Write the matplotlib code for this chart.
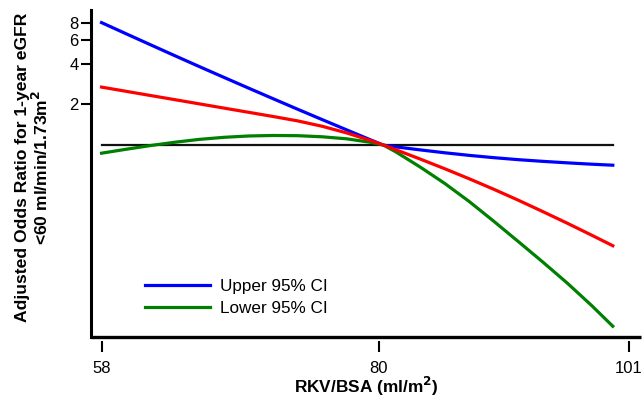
import matplotlib
matplotlib.use("Agg")
import matplotlib.pyplot as plt
from matplotlib.ticker import FixedLocator, NullLocator, FixedFormatter

plt.rcParams['font.family'] = ['Liberation Sans', 'DejaVu Sans']

# Data
rkv_bsa = [58, 60, 62, 64, 66, 68, 70, 72, 74, 76, 78, 80, 81, 82, 84, 86, 88,
           90, 92, 94, 96, 98, 99.7]
upper_ci = [8.017, 6.634, 5.498, 4.560, 3.789, 3.156, 2.632, 2.199, 1.839, 1.542,
            1.295, 1.088, 1.0, 0.971, 0.922, 0.878, 0.840, 0.808, 0.781, 0.759,
            0.740, 0.723, 0.711]
odds_ratio = [2.680, 2.495, 2.323, 2.163, 2.014, 1.875, 1.746, 1.626, 1.509, 1.377,
              1.230, 1.077, 1.0, 0.925, 0.789, 0.669, 0.564, 0.472, 0.392, 0.323,
              0.265, 0.216, 0.181]
lower_ci = [0.872, 0.932, 0.993, 1.051, 1.103, 1.142, 1.168, 1.178, 1.174, 1.152,
            1.113, 1.047, 1.0, 0.892, 0.688, 0.521, 0.383, 0.274, 0.194, 0.137,
            0.0957, 0.0652, 0.0461]

x_tick_pos = [58, 80.6, 101]
x_tick_labels = ['58', '80', '101']
y_ticks = [2, 4, 6, 8]
y_tick_labels = ['2', '4', '6', '8']

fig = plt.figure(figsize=(6.43, 4.04), dpi=100)
W, H = 643, 404
ax = fig.add_axes([91 / W, 1 - 337 / H, (641 - 91) / W, (337 - 10) / H])

ax.set_yscale('log')
ax.set_xlim(57.14, 102.0)
ax.set_ylim(0.0384, 9.93)

ax.plot([rkv_bsa[0], rkv_bsa[-1]], [1, 1], color='#111111', lw=1.6, zorder=2)
ax.plot(rkv_bsa, upper_ci, color='#0000FF', lw=2.3, label='Upper 95% CI', zorder=3)
ax.plot(rkv_bsa, lower_ci, color='#008000', lw=2.3, label='Lower 95% CI', zorder=3)
ax.plot(rkv_bsa, odds_ratio, color='#FF0000', lw=2.3, zorder=4)

# axes styling
for s in ['top', 'right']:
    ax.spines[s].set_visible(False)
ax.spines['left'].set_linewidth(2.2)
ax.spines['bottom'].set_visible(False)
ax.spines['bottom'].set_position(('outward', 3))
ax.plot([0, 1], [0, 0], transform=ax.transAxes, color='black', lw=2.4,
        clip_on=False, solid_capstyle='butt', zorder=5)

ax.yaxis.set_major_locator(FixedLocator(y_ticks))
ax.yaxis.set_major_formatter(FixedFormatter(y_tick_labels))
ax.yaxis.set_minor_locator(NullLocator())
ax.xaxis.set_major_locator(FixedLocator(x_tick_pos))
ax.xaxis.set_major_formatter(FixedFormatter(x_tick_labels))
ax.xaxis.set_minor_locator(NullLocator())

ax.tick_params(axis='y', direction='out', length=7, width=1.5, labelsize=12, pad=2)
ax.tick_params(axis='x', direction='out', length=8, width=1.5, labelsize=12, pad=6)

ax.set_xlabel('RKV/BSA (ml/m$^\\mathbf{2}$)', fontsize=12.4, fontweight='bold',
              va='center')
ax.xaxis.set_label_coords(0.5, (337 - 386) / 327)
ax.set_ylabel('Adjusted Odds Ratio for 1-year eGFR\n<60 ml/min/1.73m$^\\mathbf{2}$',
              fontsize=12.6, fontweight='bold', linespacing=1.1, va='center')
ax.yaxis.set_label_coords((33 - 91) / 550, (337 - 167) / 327)

leg = ax.legend(loc='upper left', bbox_to_anchor=(0.098, 0.177), frameon=False,
                fontsize=12.3, handlelength=3.8, handletextpad=0.58,
                borderpad=0, borderaxespad=0, labelspacing=0.42)

fig.savefig('out.png', dpi=100)
